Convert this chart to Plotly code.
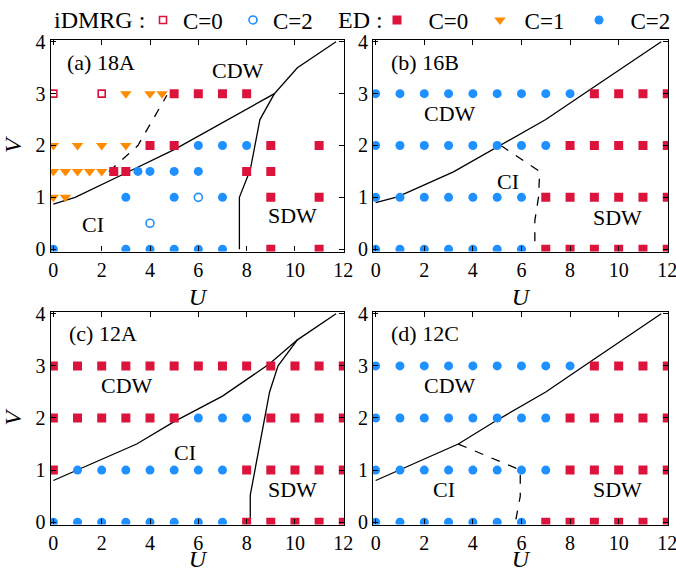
import plotly.graph_objects as go

# ---------------- data ----------------
# Panel (a) 18A
a_ed0_U = [5, 6, 7, 8, 4, 5, 9, 11, 2.5, 3, 8, 9, 9, 11, 9, 11]
a_ed0_V = [3, 3, 3, 3, 2, 2, 2, 2, 1.5, 1.5, 1.5, 1.5, 1, 1, 0, 0]
a_ed1_U = [3, 4, 4.5, 0, 1, 2, 3, 0, 0.5, 1, 1.5, 2, 0, 0.5]
a_ed1_V = [3, 3, 3, 2, 2, 2, 2, 1.5, 1.5, 1.5, 1.5, 1.5, 1, 1]
a_ed2_U = [6, 7, 8, 3.5, 4, 5, 6, 3, 5, 7, 0, 3, 4, 5, 6, 7]
a_ed2_V = [2, 2, 2, 1.5, 1.5, 1.5, 1.5, 1, 1, 1, 0, 0, 0, 0, 0, 0]
a_dm0_U = [0, 2]
a_dm0_V = [3, 3]
a_dm2_U = [6, 4]
a_dm2_V = [1, 0.5]
a_line1_U = [0, 0.9, 3, 5, 9.15, 10.1, 11.7]
a_line1_V = [0.87, 1.0, 1.47, 1.92, 3.0, 3.5, 4.0]
a_line2_U = [7.7, 7.7, 8.15, 8.55, 9.15]
a_line2_V = [0, 1.0, 1.53, 2.5, 3.0]
a_dash_U = [2.3, 3.5, 4.7]
a_dash_V = [1.5, 2.0, 2.97]

# Panel (b) 16B
b_ed2_U = [0, 1, 2, 3, 4, 5, 6, 7, 8, 0, 1, 2, 3, 4, 5, 6, 7, 0, 1, 2, 3, 4, 5, 6, 0, 1, 2, 3, 4, 5, 6]
b_ed2_V = [3] * 9 + [2] * 8 + [1] * 7 + [0] * 7
b_ed0_U = [9, 10, 11, 12, 8, 9, 10, 11, 12, 7, 8, 9, 10, 11, 12, 7, 8, 9, 10, 11, 12]
b_ed0_V = [3] * 4 + [2] * 5 + [1] * 6 + [0] * 6
b_line1_U = [0, 0.9, 3.2, 5.1, 7, 8.8, 11.75]
b_line1_V = [0.9, 1.01, 1.49, 1.99, 2.5, 3.07, 4.0]
b_dash_U = [5.15, 6.75, 6.7, 6.55, 6.55]
b_dash_V = [2.0, 1.5, 1.0, 0.55, 0]

# Panel (c) 12A
c_ed0_U = [0, 1, 2, 3, 4, 5, 6, 7, 8, 9, 10, 11, 12, 0, 1, 2, 3, 4, 5, 9, 10, 11, 12, 0, 8, 9, 10, 11, 12, 8, 9, 10, 11, 12]
c_ed0_V = [3] * 13 + [2] * 10 + [1] * 6 + [0] * 5
c_ed2_U = [6, 7, 8, 1, 2, 3, 4, 5, 6, 7, 0, 1, 2, 3, 4, 5, 6, 7]
c_ed2_V = [2] * 3 + [1] * 7 + [0] * 8
c_line1_U = [0, 3.45, 5, 7, 8.95, 10.1, 11.7]
c_line1_V = [0.8, 1.5, 1.93, 2.42, 3.04, 3.5, 4.0]
c_line2_U = [8.15, 8.15, 8.95, 9.3, 10.1]
c_line2_V = [0, 0.52, 2.5, 3.0, 3.5]

# Panel (d) 12C
d_ed2_U = [0, 1, 2, 3, 4, 5, 6, 7, 8, 0, 1, 2, 3, 4, 5, 6, 7, 0, 1, 2, 3, 4, 5, 6, 7, 0, 1, 2, 3, 4, 5, 6]
d_ed2_V = [3] * 9 + [2] * 8 + [1] * 8 + [0] * 7
d_ed0_U = [9, 10, 11, 12, 8, 9, 10, 11, 12, 8, 9, 10, 11, 12, 7, 8, 9, 10, 11, 12]
d_ed0_V = [3] * 4 + [2] * 5 + [1] * 5 + [0] * 6
d_line1_U = [0, 3.4, 5, 7, 8.8, 11.75]
d_line1_V = [0.8, 1.5, 1.96, 2.5, 3.07, 4.0]
d_dash_U = [3.4, 5.95, 5.95, 5.75]
d_dash_V = [1.5, 1.0, 0.5, 0]

x_ticks = [0, 2, 4, 6, 8, 10, 12]
y_ticks = [0, 1, 2, 3, 4]
panel_titles = ["(a) 18A", "(b) 16B", "(c) 12A", "(d) 12C"]

# ---------------- style ----------------
RED = "#DC143C"
BLUE = "#1E90FF"
ORANGE = "#FF8C00"
FONT = "Liberation Serif"
W, H = 676, 572

fig = go.Figure()


def add_pts(U, V, ax, symbol, color, size, name=None, legend=None, open_=False):
    xr = "x" if ax == 1 else f"x{ax}"
    yr = "y" if ax == 1 else f"y{ax}"
    marker = dict(symbol=symbol, size=size, color=color)
    if open_:
        marker["line"] = dict(color=color, width=1.6)
    else:
        marker["line"] = dict(width=0)
    fig.add_trace(go.Scatter(
        x=U, y=V, mode="markers", marker=marker, xaxis=xr, yaxis=yr,
        name=name if name else "", showlegend=legend is not None,
        legend=legend if legend else "legend"))


def add_line(U, V, ax, dash="solid"):
    xr = "x" if ax == 1 else f"x{ax}"
    yr = "y" if ax == 1 else f"y{ax}"
    fig.add_trace(go.Scatter(
        x=U, y=V, mode="lines", line=dict(color="black", width=1.3, dash=dash),
        xaxis=xr, yaxis=yr, showlegend=False))


# panel a
add_line(a_line1_U, a_line1_V, 1)
add_line(a_line2_U, a_line2_V, 1)
add_line(a_dash_U, a_dash_V, 1, "dash")
add_pts(a_dm0_U, a_dm0_V, 1, "square-open", RED, 7, "C=0", "legend", True)
add_pts(a_dm2_U, a_dm2_V, 1, "circle-open", BLUE, 8, "C=2", "legend2", True)
add_pts(a_ed0_U, a_ed0_V, 1, "square", RED, 9, "\u2002C=0", "legend3")
add_pts(a_ed1_U, a_ed1_V, 1, "triangle-down", ORANGE, 10, "\u2009C=1", "legend4")
add_pts(a_ed2_U, a_ed2_V, 1, "circle", BLUE, 9, "\u2002C=2", "legend5")
# panel b
add_line(b_line1_U, b_line1_V, 2)
add_line(b_dash_U, b_dash_V, 2, "dash")
add_pts(b_ed0_U, b_ed0_V, 2, "square", RED, 9)
add_pts(b_ed2_U, b_ed2_V, 2, "circle", BLUE, 9)
# panel c
add_line(c_line1_U, c_line1_V, 3)
add_line(c_line2_U, c_line2_V, 3)
add_pts(c_ed0_U, c_ed0_V, 3, "square", RED, 9)
add_pts(c_ed2_U, c_ed2_V, 3, "circle", BLUE, 9)
# panel d
add_line(d_line1_U, d_line1_V, 4)
add_line(d_dash_U, d_dash_V, 4, "dash")
add_pts(d_ed0_U, d_ed0_V, 4, "square", RED, 9)
add_pts(d_ed2_U, d_ed2_V, 4, "circle", BLUE, 9)

# domains in pixels -> paper
xdom_left = [50.7 / W, 344 / W]
xdom_right = [373 / W, 668 / W]
ydom_top = [1 - 251.5 / H, 1 - 40 / H]
ydom_bot = [1 - 524.5 / H, 1 - 312 / H]

axis_common = dict(
    showline=True, linecolor="black", linewidth=1.2, mirror="ticks",
    ticks="inside", ticklen=5, tickwidth=1, tickcolor="black",
    showgrid=False, zeroline=False, ticklabeloverflow="allow",
    tickfont=dict(family=FONT, size=20, color="black"),
)
xcommon = dict(axis_common, range=[-0.11, 12.03], tickvals=x_ticks,
               title=dict(text="<i>U</i>", font=dict(family=FONT, size=24, color="black"), standoff=8))
ycommon = dict(axis_common, range=[-0.045, 4.035], tickvals=y_ticks)
vtitle = dict(text="<i>V</i>", font=dict(family=FONT, size=24, color="black"), standoff=7)

legend_font = dict(family=FONT, size=23, color="black")


def one_legend(px):
    return dict(x=px / W, y=1 - 20 / H, xanchor="left", yanchor="middle",
                font=legend_font, bgcolor="rgba(0,0,0,0)", itemsizing="trace")


layout = dict(
    width=W, height=H, margin=dict(l=0, r=0, t=0, b=0, autoexpand=False),
    paper_bgcolor="white", plot_bgcolor="white",
    font=dict(family=FONT, size=21, color="black"),
    xaxis=dict(xcommon, domain=xdom_left, anchor="y"),
    yaxis=dict(ycommon, domain=ydom_top, anchor="x", title=vtitle),
    xaxis2=dict(xcommon, domain=xdom_right, anchor="y2"),
    yaxis2=dict(ycommon, domain=ydom_top, anchor="x2"),
    xaxis3=dict(xcommon, domain=xdom_left, anchor="y3"),
    yaxis3=dict(ycommon, domain=ydom_bot, anchor="x3", title=vtitle),
    xaxis4=dict(xcommon, domain=xdom_right, anchor="y4"),
    yaxis4=dict(ycommon, domain=ydom_bot, anchor="x4"),
    legend=one_legend(143),
    legend2=one_legend(233),
    legend3=one_legend(377),
    legend4=one_legend(480),
    legend5=one_legend(579),
)
fig.update_layout(**layout)

# legend group labels
fig.add_annotation(text="iDMRG :", x=52 / W, y=1 - 20 / H, xref="paper", yref="paper",
                   xanchor="left", yanchor="middle", showarrow=False,
                   font=dict(family=FONT, size=24, color="black"))
fig.add_annotation(text="ED :", x=336 / W, y=1 - 20 / H, xref="paper", yref="paper",
                   xanchor="left", yanchor="middle", showarrow=False,
                   font=dict(family=FONT, size=24, color="black"))

# panel annotations (data coords)
texts = [
    (1, panel_titles[0], 0.5, 3.6, "left"), (1, "CDW", 7.64, 3.45, "center"),
    (1, "CI", 1.65, 0.47, "center"), (1, "SDW", 9.9, 0.64, "center"),
    (2, panel_titles[1], 0.55, 3.6, "left"), (2, "CDW", 3.05, 2.61, "center"),
    (2, "CI", 5.45, 1.31, "center"), (2, "SDW", 9.96, 0.62, "center"),
    (3, panel_titles[2], 0.55, 3.62, "left"), (3, "CDW", 3.05, 2.62, "center"),
    (3, "CI", 5.44, 1.33, "center"), (3, "SDW", 9.9, 0.62, "center"),
    (4, panel_titles[3], 0.55, 3.62, "left"), (4, "CDW", 3.05, 2.62, "center"),
    (4, "CI", 2.8, 0.62, "center"), (4, "SDW", 9.96, 0.62, "center"),
]
for ax, t, u, v, anc in texts:
    xr = "x" if ax == 1 else f"x{ax}"
    yr = "y" if ax == 1 else f"y{ax}"
    fig.add_annotation(text=t, x=u, y=v, xref=xr, yref=yr, xanchor=anc, yanchor="middle",
                       showarrow=False, font=dict(family=FONT, size=22, color="black"))

fig.write_html("out.html")
